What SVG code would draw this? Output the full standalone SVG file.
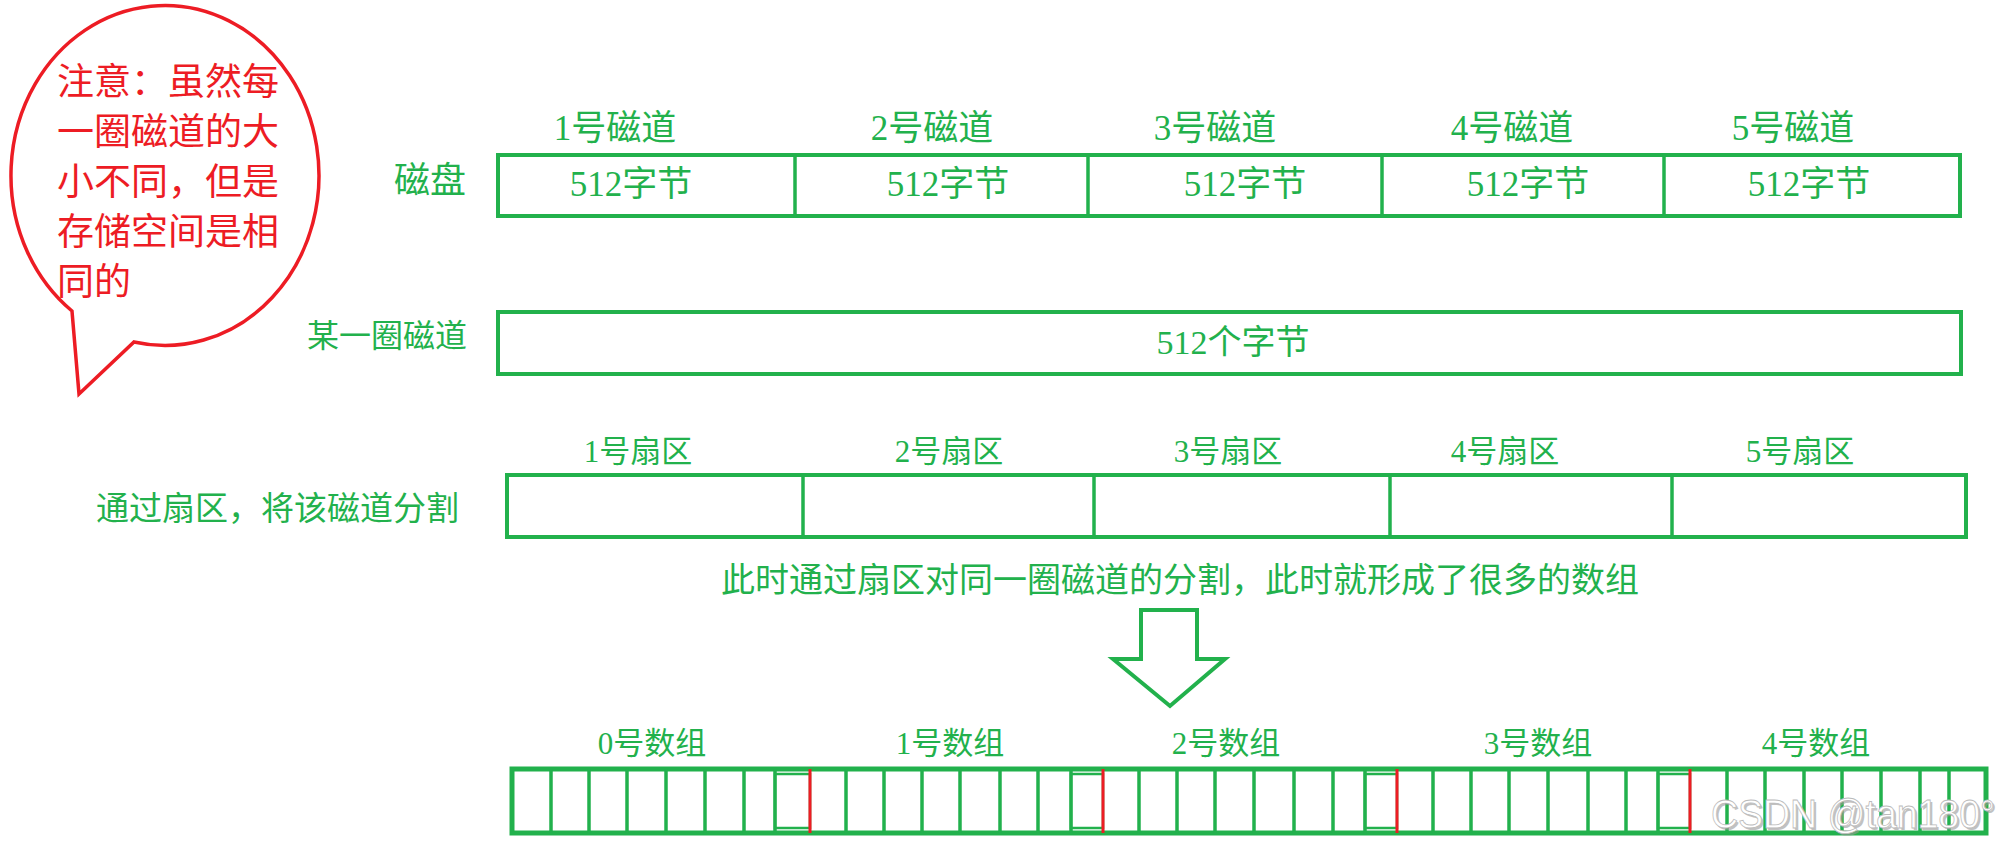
<svg xmlns="http://www.w3.org/2000/svg" width="2007" height="850" viewBox="0 0 2007 850">
<style>
.g{fill:#22b14c;font-family:"Liberation Serif","Noto Sans CJK SC",serif}
.r{fill:#ed1c24;font-family:"Noto Sans CJK SC",sans-serif;font-size:37px}
.box{fill:#fff;stroke:#22b14c;stroke-width:4}
.ln{stroke:#22b14c;stroke-width:3.5}
.red{stroke:#ed1c24;stroke-width:3}
.m{text-anchor:middle}
</style>
<rect width="2007" height="850" fill="#fff"/>
<g id="note">
<path d="M134 342 A154 170 0 1 0 72 311 L79 394 Z" fill="#fff" stroke="#ed1c24" stroke-width="3.5" stroke-linejoin="miter"/>
<text class="r" x="57" y="95">注意：虽然每</text>
<text class="r" x="57" y="145">一圈磁道的大</text>
<text class="r" x="57" y="195">小不同，但是</text>
<text class="r" x="57" y="245">存储空间是相</text>
<text class="r" x="57" y="295">同的</text>
</g>
<g id="disk">
<text class="g" x="394" y="193" font-size="36">磁盘</text>
<rect class="box" x="498" y="155" width="1462" height="61"/>
<line class="ln" x1="795" y1="155" x2="795" y2="216"/>
<line class="ln" x1="1088" y1="155" x2="1088" y2="216"/>
<line class="ln" x1="1382" y1="155" x2="1382" y2="216"/>
<line class="ln" x1="1664" y1="155" x2="1664" y2="216"/>
<g class="g m" font-size="35">
<text x="615" y="140">1号磁道</text>
<text x="932" y="140">2号磁道</text>
<text x="1215" y="140">3号磁道</text>
<text x="1512" y="140">4号磁道</text>
<text x="1793" y="140">5号磁道</text>
<text x="631" y="196">512字节</text>
<text x="948" y="196">512字节</text>
<text x="1245" y="196">512字节</text>
<text x="1528" y="196">512字节</text>
<text x="1809" y="196">512字节</text>
</g>
</g>
<g id="track">
<text class="g" x="467" y="347" font-size="32" text-anchor="end">某一圈磁道</text>
<rect class="box" x="498" y="312" width="1463" height="62"/>
<text class="g m" x="1233" y="354" font-size="34">512个字节</text>
</g>
<g id="sectors">
<text class="g" x="96" y="520" font-size="33">通过扇区，将该磁道分割</text>
<rect class="box" x="507" y="475" width="1459" height="62"/>
<line class="ln" x1="803" y1="475" x2="803" y2="537"/>
<line class="ln" x1="1094" y1="475" x2="1094" y2="537"/>
<line class="ln" x1="1390" y1="475" x2="1390" y2="537"/>
<line class="ln" x1="1672" y1="475" x2="1672" y2="537"/>
<g class="g m" font-size="31">
<text x="638" y="462">1号扇区</text>
<text x="949" y="462">2号扇区</text>
<text x="1228" y="462">3号扇区</text>
<text x="1505" y="462">4号扇区</text>
<text x="1800" y="462">5号扇区</text>
</g>
<text class="g m" x="1180" y="592" font-size="34">此时通过扇区对同一圈磁道的分割，此时就形成了很多的数组</text>
</g>
<g id="connectors">
<polygon points="1141,610 1197,610 1197,659 1225,659 1170,706 1113,659 1141,659" fill="#fff" stroke="#22b14c" stroke-width="4" stroke-linejoin="miter"/>
</g>
<g id="arrays">
<g class="g m" font-size="31">
<text x="652" y="754">0号数组</text>
<text x="950" y="754">1号数组</text>
<text x="1226" y="754">2号数组</text>
<text x="1538" y="754">3号数组</text>
<text x="1816" y="754">4号数组</text>
</g>
<rect x="512" y="769" width="1474" height="64" fill="#fff" stroke="#22b14c" stroke-width="5"/>
<g class="ln">
<line x1="551" y1="769" x2="551" y2="833"/><line x1="589" y1="769" x2="589" y2="833"/><line x1="627" y1="769" x2="627" y2="833"/><line x1="666" y1="769" x2="666" y2="833"/><line x1="705" y1="769" x2="705" y2="833"/><line x1="744" y1="769" x2="744" y2="833"/><line x1="775" y1="769" x2="775" y2="833"/>
<line x1="846" y1="769" x2="846" y2="833"/><line x1="884" y1="769" x2="884" y2="833"/><line x1="922" y1="769" x2="922" y2="833"/><line x1="960" y1="769" x2="960" y2="833"/><line x1="1000" y1="769" x2="1000" y2="833"/><line x1="1038" y1="769" x2="1038" y2="833"/><line x1="1071" y1="769" x2="1071" y2="833"/>
<line x1="1139" y1="769" x2="1139" y2="833"/><line x1="1177" y1="769" x2="1177" y2="833"/><line x1="1215" y1="769" x2="1215" y2="833"/><line x1="1254" y1="769" x2="1254" y2="833"/><line x1="1294" y1="769" x2="1294" y2="833"/><line x1="1333" y1="769" x2="1333" y2="833"/><line x1="1365" y1="769" x2="1365" y2="833"/>
<line x1="1433" y1="769" x2="1433" y2="833"/><line x1="1471" y1="769" x2="1471" y2="833"/><line x1="1509" y1="769" x2="1509" y2="833"/><line x1="1548" y1="769" x2="1548" y2="833"/><line x1="1588" y1="769" x2="1588" y2="833"/><line x1="1626" y1="769" x2="1626" y2="833"/><line x1="1658" y1="769" x2="1658" y2="833"/>
<line x1="1727" y1="769" x2="1727" y2="833"/><line x1="1765" y1="769" x2="1765" y2="833"/><line x1="1804" y1="769" x2="1804" y2="833"/><line x1="1842" y1="769" x2="1842" y2="833"/><line x1="1881" y1="769" x2="1881" y2="833"/><line x1="1920" y1="769" x2="1920" y2="833"/><line x1="1949" y1="769" x2="1949" y2="833"/>
</g>
<g fill="none" stroke="#22b14c" stroke-width="2.5">
<rect x="775" y="774" width="35" height="54"/>
<rect x="1071" y="774" width="32" height="54"/>
<rect x="1365" y="774" width="32" height="54"/>
<rect x="1658" y="774" width="32" height="54"/>
</g>
<g class="red">
<line x1="810" y1="769" x2="810" y2="833"/>
<line x1="1103" y1="769" x2="1103" y2="833"/>
<line x1="1397" y1="769" x2="1397" y2="833"/>
<line x1="1690" y1="769" x2="1690" y2="833"/>
</g>
</g>
<g id="watermark" font-family="'Liberation Sans',sans-serif" font-size="40">
<text x="1713" y="830" fill="#999" opacity="0.6" textLength="284" lengthAdjust="spacingAndGlyphs">CSDN @tan180°</text>
<text x="1711" y="828" fill="#fff" stroke="#bbb" stroke-width="0.8" textLength="284" lengthAdjust="spacingAndGlyphs">CSDN @tan180°</text>
</g>
</svg>
